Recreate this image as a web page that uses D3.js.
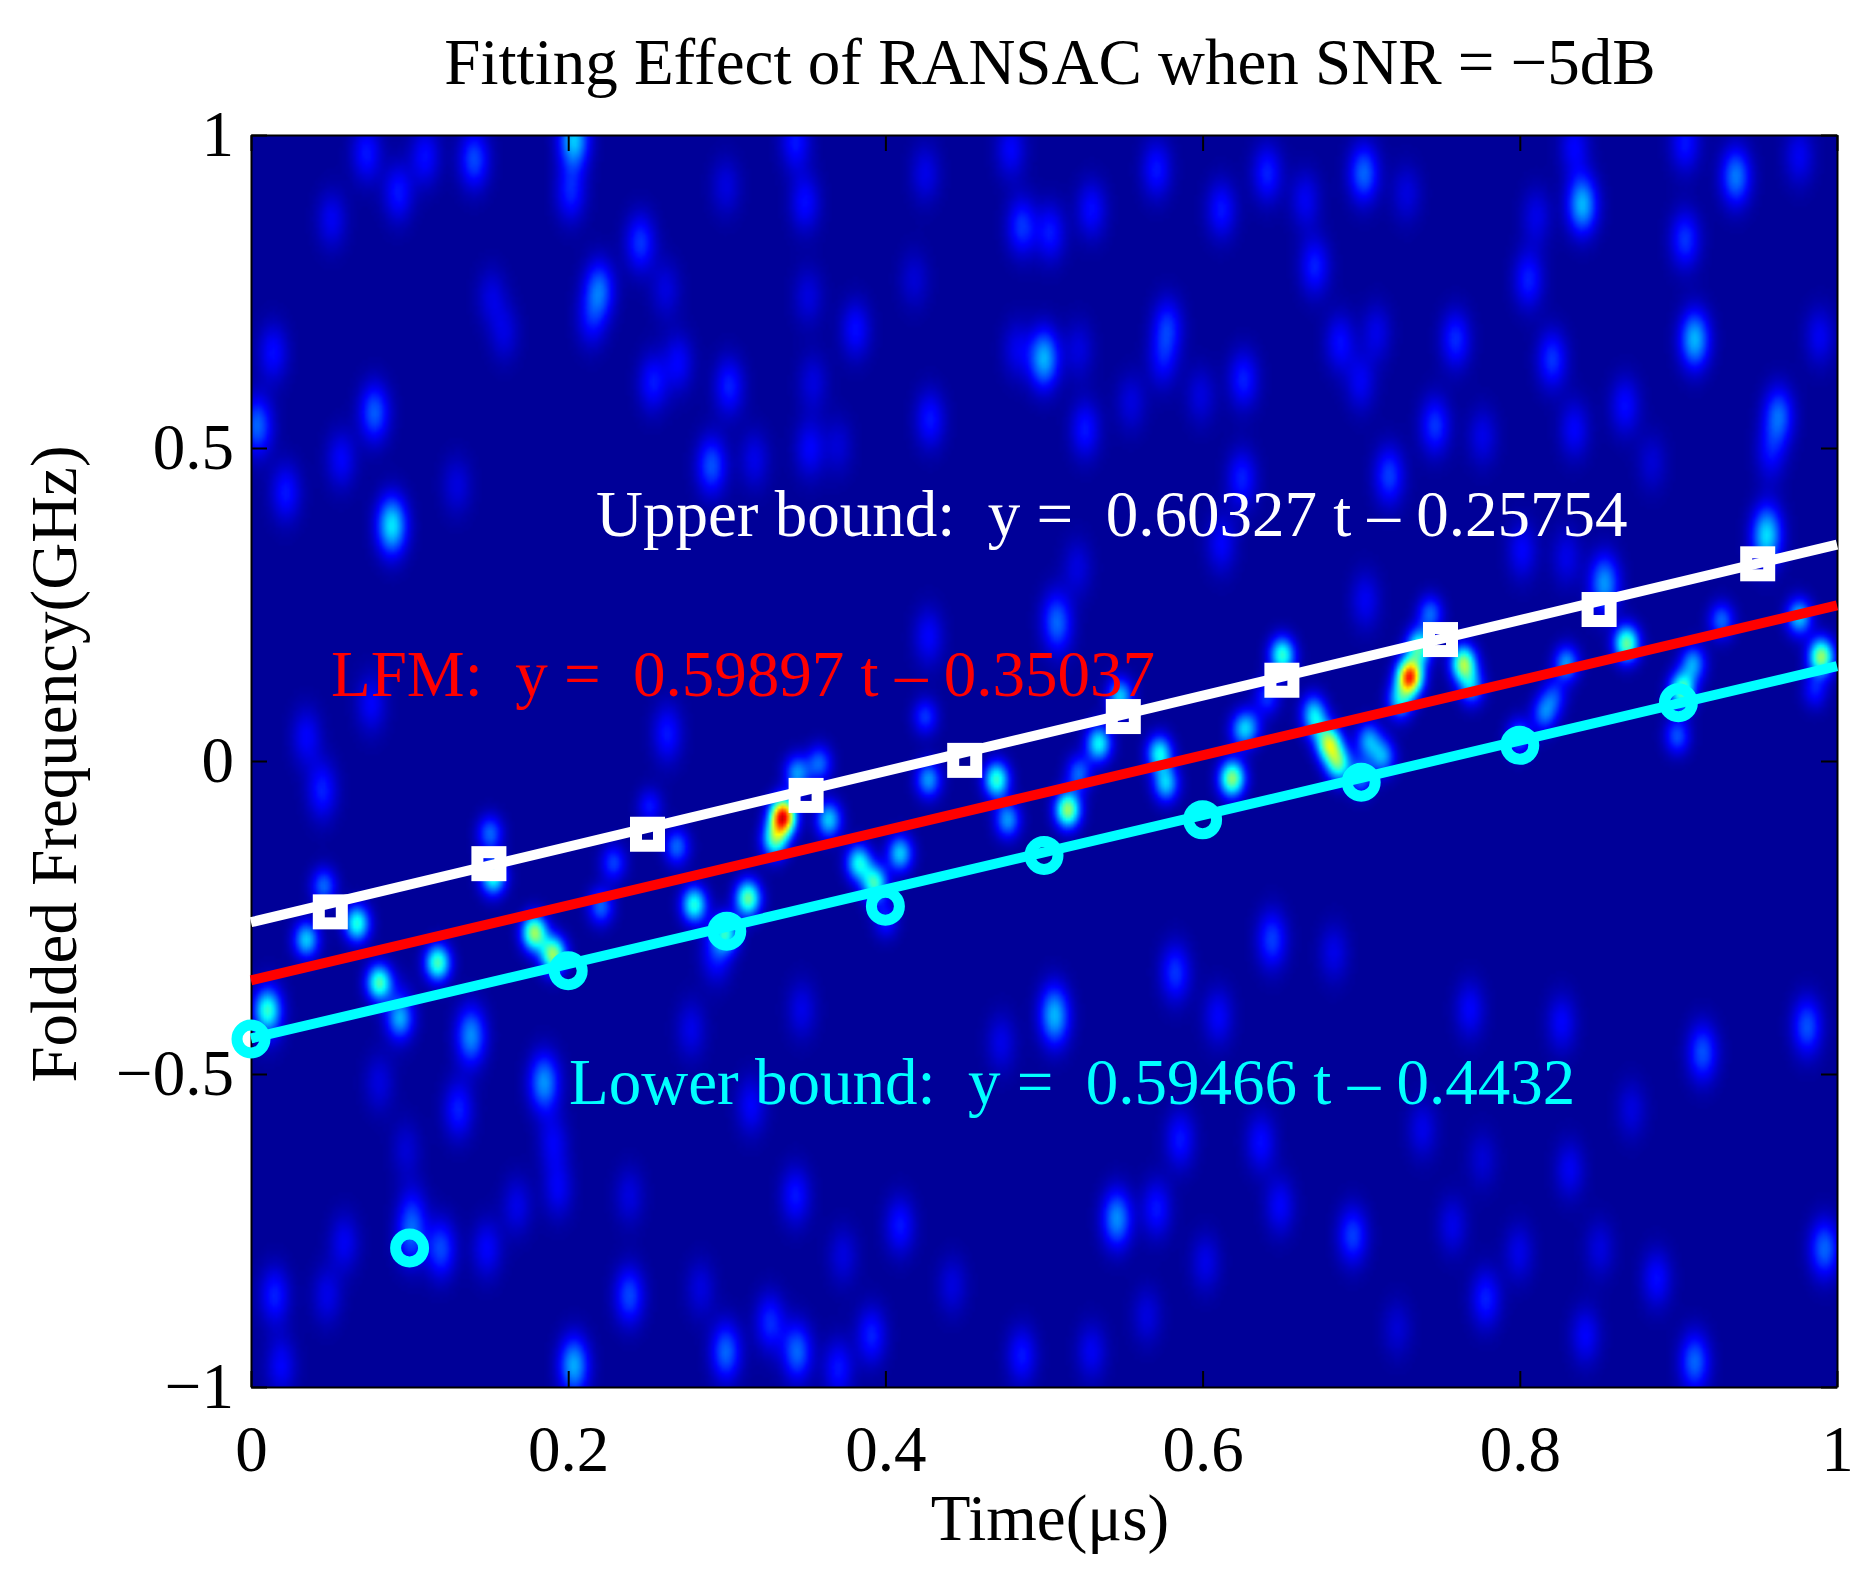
<!DOCTYPE html>
<html>
<head>
<meta charset="utf-8">
<script src="https://cdn.jsdelivr.net/npm/d3@7"></script>
<style>
  body { margin: 0; background: #fff; }
  text { font-family: "Liberation Serif", "Times New Roman", serif; white-space: pre; }
</style>
</head>
<body>
<div id="chart"></div>
<script>
// tick labels
const xTicks = [0, 0.2, 0.4, 0.6, 0.8, 1];
const yTicks = [-1, -0.5, 0, 0.5, 1];

// fitted lines [slope, intercept]
const upperFit = [0.60327, -0.25754];
const lfmFit = [0.59897, -0.35037];
const lowerFit = [0.59466, -0.4432];

// RANSAC points
const upperT = [0.05, 0.15, 0.25, 0.35, 0.45, 0.55, 0.65, 0.75, 0.85, 0.95];
const upperF = [-0.241, -0.164, -0.117, -0.055, 0.001, 0.071, 0.129, 0.194, 0.242, 0.315];
const lowerT = [0, 0.1, 0.2, 0.3, 0.4, 0.5, 0.6, 0.7, 0.8, 0.9];
const lowerF = [-0.444, -0.778, -0.335, -0.272, -0.232, -0.151, -0.094, -0.034, 0.025, 0.093];

// spectrogram, bright spots as [t, f, level], read by eye
const noiseSpots = [
  [.14,.963,.17],[.203,.995,.3],[.201,.91,.13],[.072,.973,.12],[.109,.968,.11],[.092,.91,.12],[.05,.867,.09],
  [.245,.83,.15],[.219,.755,.2],[.214,.707,.1],[.013,.654,.11],[.151,.744,.07],[.159,.686,.07],[.077,.558,.19],
  [.056,.483,.1],[.021,.43,.12],[.088,.377,.33],[.003,.537,.2],[.253,.606,.12],[.269,.638,.1],[.301,.6,.13],
  [.29,.473,.18],[.317,.483,.08],[.352,.5,.1],[.354,.606,.07],[.349,.894,.11],[.381,.691,.11],[.428,.547,.12],
  [.486,.856,.15],[.5,.638,.12],[.343,.992,.12],[.479,.979,.1],[.425,.941,.08],[.299,.92,.07],[.261,.755,.07],
  [.351,.744,.07],[.418,.771,.06],[.483,.659,.08],[.129,.441,.07],[.37,.505,.06],
  [.702,.941,.2],[.571,.947,.12],[.641,.941,.13],[.53,.883,.11],[.612,.883,.12],[.504,.846,.12],[.665,.899,.09],
  [.671,.792,.13],[.729,.909,.07],[.84,.891,.28],[.937,.936,.22],[.905,.989,.12],[.835,.984,.1],[.905,.835,.15],
  [.806,.771,.13],[.811,.872,.08],[.578,.696,.14],[.575,.643,.1],[.76,.675,.14],[.821,.643,.15],[.911,.675,.28],
  [.687,.67,.11],[.71,.686,.08],[.7,.606,.09],[.626,.611,.13],[.5,.649,.16],[.522,.659,.07],[.526,.531,.12],
  [.555,.574,.07],[.599,.585,.07],[.747,.537,.15],[.777,.52,.08],[.835,.531,.1],[.867,.569,.11],[.964,.553,.2],
  [.959,.494,.1],[.99,.68,.09],[.718,.457,.16],[.625,.452,.13],[.884,.478,.06],[.958,.372,.08],[.977,.968,.09],
  [.01,-.403,.2],[.138,-.44,.14],[.13,-.558,.13],[.185,-.515,.15],[.19,-.611,.09],[.193,-.686,.09],[.093,-.403,.13],
  [.08,-.515,.07],[.097,-.622,.06],[.119,-.781,.17],[.1,-.764,.15],[.101,-.723,.1],[.058,-.771,.09],[.148,-.781,.1],
  [.014,-.856,.13],[.047,-.856,.08],[.238,-.856,.17],[.203,-.968,.27],[.299,-.946,.2],[.327,-.899,.14],[.344,-.946,.2],
  [.391,-.92,.13],[.37,-.973,.12],[.486,-.952,.12],[.343,-.696,.12],[.373,-.792,.07],[.409,-.744,.12],[.315,-.552,.1],
  [.238,-.696,.07],[.347,-.398,.08],[.277,-.43,.08],[.473,-.451,.08],[.283,-.845,.07],[.442,-.84,.07],[.167,-.712,.08],
  [.018,-.968,.1],
  [.507,-.414,.17],[.61,-.409,.1],[.827,-.419,.1],[.916,-.467,.18],[.982,-.425,.18],[.769,-.398,.1],[.586,-.606,.12],
  [.637,-.611,.11],[.739,-.59,.08],[.832,-.654,.09],[.546,-.733,.24],[.571,-.717,.12],[.649,-.712,.1],[.695,-.76,.16],
  [.758,-.744,.08],[.8,-.787,.08],[.851,-.781,.07],[.887,-.829,.11],[.779,-.861,.13],[.842,-.92,.1],[.911,-.962,.2],
  [.993,-.781,.2],[.602,-.803,.08],[.53,-.946,.09],[.565,-.888,.07],[.871,-.558,.07],[.777,-.638,.06],[.723,-.909,.06],
  [.044,-.047,.13],[.034,.039,.1],[.262,.044,.12],[.075,.092,.1],[.138,-.44,.1],[.183,-.515,.1],[.644,-.286,.16],
  [.583,-.339,.15],[.506,-.398,.12],[.683,-.307,.08],[.427,.199,.1],[.509,.215,.12],[.612,.348,.1],[.802,.337,.1],
  [.83,.326,.08],[.507,.231,.09],[.521,.31,.07],[.703,.257,.09],[.956,.358,.25],[.854,.284,.25],[.293,-.307,.13]
];
const ridgeSpots = [
  [.045,-.2,.2],[.034,-.286,.3],[.066,-.26,.38],[.08,-.355,.42],[.117,-.323,.42],[.093,-.414,.15],[.009,-.398,.2],
  [.15,-.116,.2],[.152,-.185,.38],[.178,-.275,.5],[.19,-.31,.5],[.22,-.233,.2],[.228,-.163,.16],[.268,-.137,.2],
  [.251,-.073,.12],[.279,-.23,.38],[.313,-.22,.45],[.299,-.276,.35],[.335,-.089,.85],[.33,-.126,.4],[.344,-.02,.25],
  [.358,-.004,.2],[.364,-.094,.3],[.383,-.163,.35],[.393,-.196,.4],[.409,-.148,.3],[.4,-.254,.13],[.47,-.03,.4],
  [.515,-.078,.5],[.477,-.094,.25],[.522,-.02,.2],[.425,.071,.15],[.427,-.03,.25],[.573,.012,.35],[.577,-.036,.3],
  [.535,.028,.2],[.548,.103,.3],[.618,-.03,.3],[.625,.05,.2],[.65,.172,.2],[.641,.103,.15],[.68,.028,.5],[.686,-.004,.4],
  [.705,.033,.25],[.731,.135,.8],[.725,.097,.3],[.737,.183,.4],[.67,.081,.2],[.765,.156,.5],[.77,.119,.25],[.868,.188,.45],
  [.83,.156,.25],[.822,.103,.15],[.816,.076,.2],[.928,.225,.2],[.977,.231,.3],[.991,.167,.5],[.903,.113,.45],[.91,.156,.25],
  [.8,.039,.2],[.7,-.025,.22],[.714,.007,.25],[.534,.028,.15],[.651,.167,.2],[.672,.06,.2],[.62,-.025,.2],[.63,.055,.15],
  [.744,.236,.2],[.9,.04,.18],[.987,.113,.12]
];

const width = 1871, height = 1569;
const plot = { left: 251, right: 1837, top: 135, bottom: 1387 };

const x = d3.scaleLinear().domain([0, 1]).range([plot.left, plot.right]);
const y = d3.scaleLinear().domain([-1, 1]).range([plot.bottom, plot.top]);

// jet colour map
const jet = d3.scaleLinear()
  .domain([0, 0.125, 0.375, 0.625, 0.875, 1])
  .range(["#000080", "#0000ff", "#00ffff", "#ffff00", "#ff0000", "#800000"])
  .clamp(true);
const lut = d3.range(256).map(i => d3.rgb(jet(i / 255)));

// build the heat field on a small grid
const cols = 530, rows = 418;
const gridT = d3.scaleLinear().domain([0, cols - 1]).range([0, 1]);
const gridF = d3.scaleLinear().domain([0, rows - 1]).range([1, -1]);
const field = new Float32Array(cols * rows).fill(0.022);

function addSpots(spots, st, sf) {
  spots.forEach(([t, f, a]) => {
    const c0 = Math.max(0, Math.floor(gridT.invert(t - 3 * st)));
    const c1 = Math.min(cols - 1, Math.ceil(gridT.invert(t + 3 * st)));
    const r0 = Math.max(0, Math.floor(gridF.invert(f + 3 * sf)));
    const r1 = Math.min(rows - 1, Math.ceil(gridF.invert(f - 3 * sf)));
    for (let r = r0; r <= r1; r++) {
      for (let c = c0; c <= c1; c++) {
        const dt = (gridT(c) - t) / st, df = (gridF(r) - f) / sf;
        field[r * cols + c] += a * Math.exp(-0.5 * (dt * dt + df * df));
      }
    }
  });
}
addSpots(noiseSpots, 0.0065, 0.032);
addSpots(ridgeSpots, 0.0055, 0.02);

const canvas = document.createElement("canvas");
canvas.width = cols;
canvas.height = rows;
const ctx = canvas.getContext("2d");
const img = ctx.createImageData(cols, rows);
field.forEach((v, i) => {
  const c = lut[Math.min(255, Math.round(v * 255))];
  img.data[i * 4] = c.r;
  img.data[i * 4 + 1] = c.g;
  img.data[i * 4 + 2] = c.b;
  img.data[i * 4 + 3] = 255;
});
ctx.putImageData(img, 0, 0);

const svg = d3.select("#chart")
  .append("svg")
  .attr("width", width)
  .attr("height", height)
  .style("display", "block");

svg.append("image")
  .attr("href", canvas.toDataURL())
  .attr("x", x(0))
  .attr("y", y(1))
  .attr("width", x(1) - x(0))
  .attr("height", y(-1) - y(1))
  .attr("preserveAspectRatio", "none");

// axes, ticks point inward on all four sides
const fontSize = 65;
const minus = s => String(s).replace("-", "\u2212");

const axes = [
  d3.axisBottom(x).tickValues(xTicks).tickFormat(minus).tickSize(-16).tickPadding(38),
  d3.axisLeft(y).tickValues(yTicks).tickFormat(minus).tickSize(-16).tickPadding(17),
  d3.axisTop(x).tickValues(xTicks).tickFormat("").tickSize(-16),
  d3.axisRight(y).tickValues(yTicks).tickFormat("").tickSize(-16)
];
const axisPos = [
  [0, plot.bottom], [plot.left, 0], [0, plot.top], [plot.right, 0]
];
axes.forEach((a, i) => {
  const g = svg.append("g")
    .attr("transform", `translate(${axisPos[i][0]},${axisPos[i][1]})`)
    .call(a.tickSizeOuter(0));
  g.selectAll("path, line").attr("stroke", "#000").attr("stroke-width", 2);
  g.selectAll("text")
    .attr("fill", "#000")
    .style("font-family", '"Liberation Serif", serif')
    .style("font-size", fontSize + "px");
});

// titles and labels
const label = (txt, px, py, color, anchor) => svg.append("text")
  .attr("x", px).attr("y", py)
  .attr("fill", color)
  .attr("text-anchor", anchor)
  .style("font-size", fontSize + "px")
  .text(txt);

label("Fitting Effect of RANSAC when SNR = \u22125dB", 1050, 84, "#000", "middle");
label("Time(\u03bcs)", 1050, 1540, "#000", "middle");
label("Folded Frequency(GHz)", 0, 0, "#000", "middle")
  .attr("transform", "translate(76,764) rotate(-90)");

label("Upper bound:  y =  0.60327 t \u2013 0.25754", 596, 536, "#fff", "start");
label("LFM:  y =  0.59897 t \u2013 0.35037", 331, 696, "#f00", "start");
label("Lower bound:  y =  0.59466 t \u2013 0.4432", 569, 1104, "#0ff", "start");

// fitted lines
const fitLine = d3.line().x(d => x(d[0])).y(d => y(d[1]));
const ends = xTicks.filter(t => t === 0 || t === 1);
[[upperFit, "#fff"], [lfmFit, "#f00"], [lowerFit, "#0ff"]].forEach(([fit, color]) => {
  svg.append("path")
    .attr("d", fitLine(ends.map(t => [t, fit[0] * t + fit[1]])))
    .attr("fill", "none")
    .attr("stroke", color)
    .attr("stroke-width", 10);
});

// markers
svg.append("g")
  .selectAll("rect")
  .data(upperT)
  .enter()
  .append("rect")
  .attr("x", d => x(d) - 11.5)
  .attr("y", (d, i) => y(upperF[i]) - 11.5)
  .attr("width", 23)
  .attr("height", 23)
  .attr("fill", "none")
  .attr("stroke", "#fff")
  .attr("stroke-width", 12);

svg.append("g")
  .selectAll("circle")
  .data(lowerT)
  .enter()
  .append("circle")
  .attr("cx", d => x(d))
  .attr("cy", (d, i) => y(lowerF[i]))
  .attr("r", 14)
  .attr("fill", "none")
  .attr("stroke", "#0ff")
  .attr("stroke-width", 11);
</script>
</body>
</html>
